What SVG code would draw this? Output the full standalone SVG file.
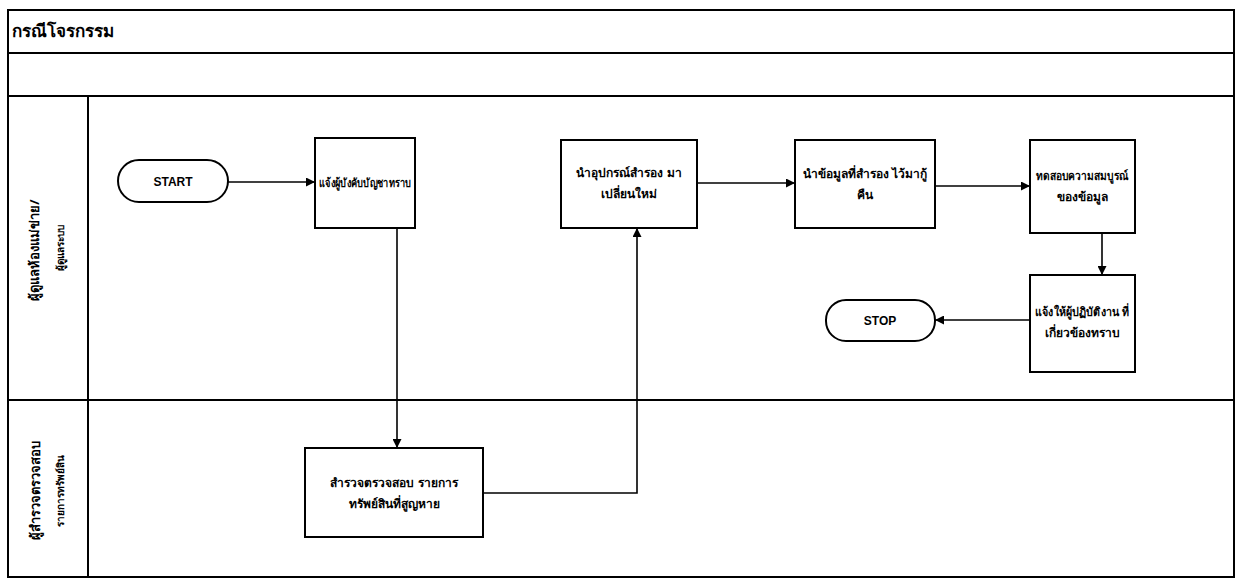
<svg xmlns="http://www.w3.org/2000/svg" width="1235" height="582" viewBox="0 0 1235 582">
  <defs>
    <marker id="arrow" viewBox="0 0 10 10" refX="10" refY="5" markerWidth="9" markerHeight="9" markerUnits="userSpaceOnUse" orient="auto">
      <path d="M0,0 L10,5 L0,10 z" fill="#000"/>
    </marker>
    <style>
      .frame { fill: none; stroke: #000; stroke-width: 2; }
      .box { fill: #fff; stroke: #000; stroke-width: 2; }
      .edge { fill: none; stroke: #000; stroke-width: 1.6; marker-end: url(#arrow); }
      .thai { font-family: "Noto Sans", "DejaVu Sans", sans-serif; font-weight: bold; fill: #000; }
      .label { font-size: 12px; text-anchor: middle; }
      .term { font-family: "Liberation Sans", Arial, sans-serif; font-size: 12px; font-weight: bold; text-anchor: middle; fill: #000; }
      .lane1 { font-size: 13px; text-anchor: middle; }
      .lane2 { font-size: 10px; text-anchor: middle; }
    </style>
  </defs>

  <rect width="1235" height="582" fill="#fff"/>

  <!-- swimlane table -->
  <g id="table">
    <rect class="frame" x="8" y="10" width="1226" height="567"/>
    <line class="frame" x1="8" y1="53" x2="1234" y2="53"/>
    <line class="frame" x1="8" y1="96" x2="1234" y2="96"/>
    <line class="frame" x1="8" y1="400" x2="1234" y2="400"/>
    <line class="frame" x1="88" y1="96" x2="88" y2="577"/>
    <text class="thai" x="12" y="37" font-size="17">กรณีโจรกรรม</text>
  </g>

  <g id="lane-admin">
    <text class="thai lane1" transform="translate(39,250) rotate(-90)">ผู้ดูแลห้องแม่ข่าย/</text>
    <text class="thai lane2" transform="translate(64,248) rotate(-90)">ผู้ดูแลระบบ</text>
  </g>
  <g id="lane-auditor">
    <text class="thai lane1" transform="translate(40,490) rotate(-90)">ผู้สำรวจตรวจสอบ</text>
    <text class="thai lane2" transform="translate(64,491) rotate(-90)">รายการทรัพย์สิน</text>
  </g>

  <!-- connectors -->
  <g id="connectors">
    <line class="edge" x1="228" y1="182" x2="315" y2="182"/>
    <line class="edge" x1="397" y1="228" x2="397" y2="448"/>
    <polyline class="edge" points="483,493 637,493 637,228"/>
    <line class="edge" x1="697" y1="183" x2="795" y2="183"/>
    <line class="edge" x1="935" y1="186" x2="1030" y2="186"/>
    <line class="edge" x1="1102" y1="233" x2="1102" y2="275"/>
    <line class="edge" x1="1030" y1="320" x2="935" y2="320"/>
  </g>

  <g id="start">
    <rect class="box" x="118" y="160" width="110" height="42" rx="21" ry="21"/>
    <text class="term" x="173" y="186">START</text>
  </g>

  <g id="notify-supervisor">
    <rect class="box" x="315" y="138" width="100" height="90"/>
    <text class="thai label" x="365" y="187" textLength="92" lengthAdjust="spacingAndGlyphs">แจ้งผู้บังคับบัญชาทราบ</text>
  </g>

  <g id="survey-assets">
    <rect class="box" x="305" y="448" width="178" height="89"/>
    <text class="thai label" x="394" y="487">สำรวจตรวจสอบ รายการ</text>
    <text class="thai label" x="394" y="508">ทรัพย์สินที่สูญหาย</text>
  </g>

  <g id="replace-equipment">
    <rect class="box" x="561" y="140" width="136" height="88"/>
    <text class="thai label" x="629" y="177">นำอุปกรณ์สำรอง มา</text>
    <text class="thai label" x="629" y="198">เปลี่ยนใหม่</text>
  </g>

  <g id="restore-data">
    <rect class="box" x="795" y="140" width="140" height="88"/>
    <text class="thai label" x="865" y="178">นำข้อมูลที่สำรอง ไว้มากู้</text>
    <text class="thai label" x="865" y="199">คืน</text>
  </g>

  <g id="verify-data">
    <rect class="box" x="1030" y="140" width="105" height="93"/>
    <text class="thai label" x="1082" y="180" textLength="92" lengthAdjust="spacingAndGlyphs">ทดสอบความสมบูรณ์</text>
    <text class="thai label" x="1082" y="201">ของข้อมูล</text>
  </g>

  <g id="notify-staff">
    <rect class="box" x="1030" y="275" width="105" height="97"/>
    <text class="thai label" x="1082" y="316" textLength="94" lengthAdjust="spacingAndGlyphs">แจ้งให้ผู้ปฏิบัติงาน ที่</text>
    <text class="thai label" x="1082" y="337">เกี่ยวข้องทราบ</text>
  </g>

  <g id="stop">
    <rect class="box" x="826" y="300" width="109" height="41" rx="20" ry="20"/>
    <text class="term" x="880" y="325">STOP</text>
  </g>
</svg>
